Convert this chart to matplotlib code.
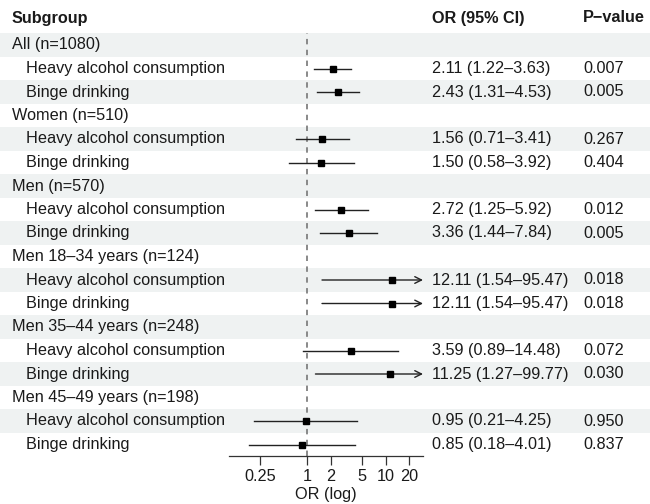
import matplotlib.pyplot as plt
import numpy as np

plt.rcParams['font.family'] = ['Liberation Sans', 'DejaVu Sans']

# rows of the table, top to bottom
labels = ["All (n=1080)", "Heavy alcohol consumption", "Binge drinking",
          "Women (n=510)", "Heavy alcohol consumption", "Binge drinking",
          "Men (n=570)", "Heavy alcohol consumption", "Binge drinking",
          "Men 18–34 years (n=124)", "Heavy alcohol consumption", "Binge drinking",
          "Men 35–44 years (n=248)", "Heavy alcohol consumption", "Binge drinking",
          "Men 45–49 years (n=198)", "Heavy alcohol consumption", "Binge drinking"]
is_group = [True, False, False] * 6
odds = [None, 2.11, 2.43, None, 1.56, 1.50, None, 2.72, 3.36,
        None, 12.11, 12.11, None, 3.59, 11.25, None, 0.95, 0.85]
lower = [None, 1.22, 1.31, None, 0.71, 0.58, None, 1.25, 1.44,
         None, 1.54, 1.54, None, 0.89, 1.27, None, 0.21, 0.18]
upper = [None, 3.63, 4.53, None, 3.41, 3.92, None, 5.92, 7.84,
         None, 95.47, 95.47, None, 14.48, 99.77, None, 4.25, 4.01]
pvals = ["", "0.007", "0.005", "", "0.267", "0.404", "", "0.012", "0.005",
         "", "0.018", "0.018", "", "0.072", "0.030", "", "0.950", "0.837"]
ticks = [0.25, 1, 2, 5, 10, 20]
tick_labels = ["0.25", "1", "2", "5", "10", "20"]

W, H = 650, 504
row0, rowh = 45, 23.5
fs = 11.7
txt = '#1a1a1a'
stripe = '#eff2f2'
xmin, xmax = 0.1, 30

fig = plt.figure(figsize=(6.5, 5.04), dpi=100)
bg = fig.add_axes([0, 0, 1, 1])
bg.set_xlim(0, W)
bg.set_ylim(H, 0)
bg.axis('off')

n = len(labels)
for i in range(n):
    yc = row0 + rowh * i
    if i % 2 == 0:
        bg.axhspan(yc - rowh / 2, yc + rowh / 2, color=stripe, lw=0, zorder=0)
    x = 12 if is_group[i] else 26
    bg.text(x, yc, labels[i], fontsize=fs, color=txt, va='center', ha='left')
    if odds[i] is not None:
        bg.text(432, yc, f"{odds[i]:.2f} ({lower[i]:.2f}–{upper[i]:.2f})",
                fontsize=fs, color=txt, va='center', ha='left')
        bg.text(583, yc, pvals[i], fontsize=fs, color=txt, va='center', ha='left')

hy = 18
bg.text(12, hy, "Subgroup", fontsize=fs, fontweight='bold', color=txt, va='center')
bg.text(432, hy, "OR (95% CI)", fontsize=fs, fontweight='bold', color=txt, va='center')
bg.text(583, hy, "P−value", fontsize=fs, fontweight='bold', color=txt, va='center')

# forest panel
top_px = row0 - rowh / 2
bot_px = row0 + rowh * (n - 0.5)
ax = fig.add_axes([229 / W, (H - bot_px) / H, (423 - 229) / W, (bot_px - top_px) / H])
ax.patch.set_alpha(0)
ax.set_xscale('log')
ax.set_xlim(xmin, xmax)
ax.set_ylim(n - 0.5, -0.5)
for s in ['top', 'right', 'left']:
    ax.spines[s].set_visible(False)
ax.spines['bottom'].set_color('#333333')
ax.spines['bottom'].set_linewidth(0.9)
ax.set_yticks([])
ax.set_xticks(ticks)
ax.set_xticklabels(tick_labels)
ax.minorticks_off()
ax.tick_params(axis='x', length=6.5, width=0.9, color='#333333', labelsize=fs,
               labelcolor=txt, pad=2.5)
ax.set_xlabel("OR (log)", fontsize=fs, color=txt, labelpad=2)

ax.axvline(1, color='#808080', lw=1.3, ls=(0, (3, 3)), zorder=1)

for i in range(n):
    if odds[i] is None:
        continue
    lo, hi = lower[i], upper[i]
    if hi > xmax:
        ax.annotate("", xy=(xmax, i), xytext=(lo, i),
                    arrowprops=dict(arrowstyle='->', color='#222222', lw=1,
                                    shrinkA=0, shrinkB=0, mutation_scale=12),
                    annotation_clip=False)
    else:
        ax.plot([lo, hi], [i, i], color='#222222', lw=1, zorder=2)
    ax.plot(odds[i], i, marker='s', color='black', ms=4.5, zorder=3)

fig.savefig("out.png", dpi=100)
